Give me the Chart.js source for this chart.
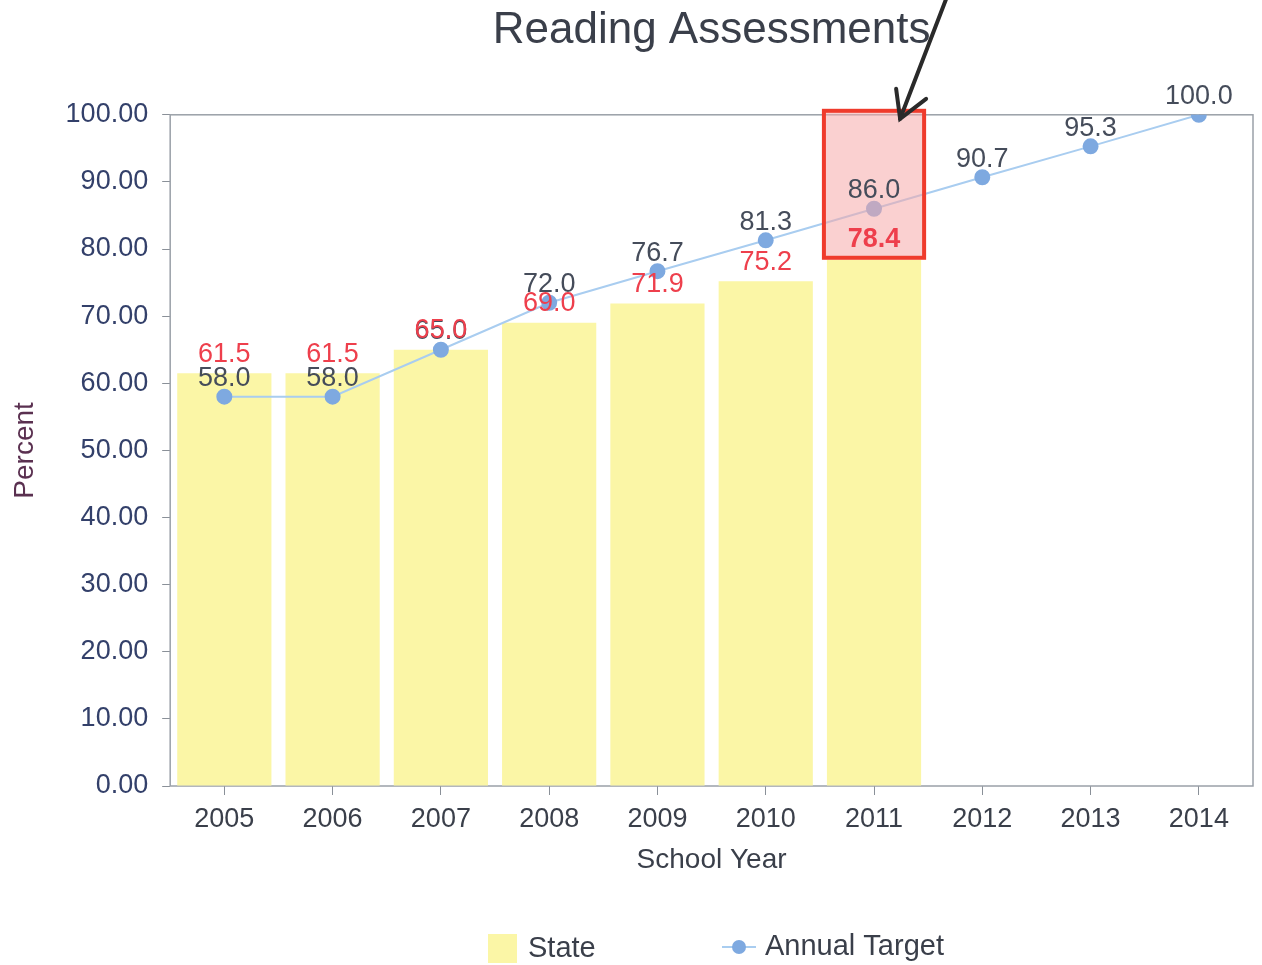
<!DOCTYPE html>
<html>
<head>
<meta charset="utf-8">
<title>Reading Assessments</title>
<script src="https://cdn.jsdelivr.net/npm/chart.js@4"></script>
<style>
  body { margin: 0; background: #fff; }
  #wrap { width: 1262px; height: 965px; }
</style>
</head>
<body>
<div id="wrap"><canvas id="chart" width="1262" height="965"></canvas></div>
<script>
const years = ["2005", "2006", "2007", "2008", "2009", "2010", "2011", "2012", "2013", "2014"];
const stateValues = [61.5, 61.5, 65.0, 69.0, 71.9, 75.2, 78.4, null, null, null];
const targetValues = [58.0, 58.0, 65.0, 72.0, 76.7, 81.3, 86.0, 90.7, 95.3, 100.0];
const highlightYear = "2011";

const font = "'Liberation Sans', Arial, sans-serif";

// labels, frame, highlight box, arrow and legend
const extras = {
  id: "extras",
  beforeDatasetsDraw(chart) {
    let a = chart.chartArea;
    let c = chart.ctx;
    c.save();
    c.strokeStyle = "#9aa0a8";
    c.lineWidth = 1.5;
    c.strokeRect(a.left, a.top, a.right - a.left, a.bottom - a.top);
    c.restore();
  },
  afterDatasetsDraw(chart) {
    let c = chart.ctx;
    let a = chart.chartArea;
    let y = chart.scales.y;
    let barMeta = chart.getDatasetMeta(0);
    let lineMeta = chart.getDatasetMeta(1);

    // highlight box
    let hi = years.indexOf(highlightYear);
    let bar = barMeta.data[hi];
    let half = bar.width / 2 + 3;
    let top = a.top - 4;
    let bottom = y.getPixelForValue(stateValues[hi]) - 2;
    c.save();
    c.fillStyle = "rgba(246, 170, 170, 0.55)";
    c.fillRect(bar.x - half, top, half * 2, bottom - top);
    c.strokeStyle = "#ef3b2c";
    c.lineWidth = 4;
    c.strokeRect(bar.x - half, top, half * 2, bottom - top);
    c.restore();

    c.save();
    c.textAlign = "center";
    c.textBaseline = "middle";

    // target labels
    c.font = "27px " + font;
    c.fillStyle = "#454c5a";
    lineMeta.data.forEach((p, i) => {
      c.fillText(targetValues[i].toFixed(1), p.x, p.y - 18);
    });

    // state labels
    barMeta.data.forEach((b, i) => {
      if (stateValues[i] == null) return;
      c.fillStyle = "#ee3f4c";
      c.font = (i === hi ? "bold " : "") + "27px " + font;
      c.fillText(stateValues[i].toFixed(1), b.x, b.y - (i === hi ? 20 : 19));
    });
    c.restore();

    // arrow
    let tipX = bar.x + half - 24;
    let tipY = top + 8;
    c.save();
    c.strokeStyle = "#2a2a2a";
    c.lineWidth = 4;
    c.lineCap = "round";
    c.beginPath();
    c.moveTo(tipX + 48, tipY - 125);
    c.lineTo(tipX, tipY);
    c.stroke();
    c.beginPath();
    c.moveTo(tipX - 4, tipY - 30);
    c.lineTo(tipX, tipY);
    c.lineTo(tipX + 26, tipY - 20);
    c.stroke();
    c.restore();

    // legend
    c.save();
    c.font = "29px " + font;
    c.textBaseline = "middle";
    c.fillStyle = "#fbf6a6";
    c.fillRect(488, 934, 29, 29);
    c.fillStyle = "#3a3f4a";
    c.fillText("State", 528, 949);
    c.strokeStyle = "#a9cdf0";
    c.lineWidth = 2;
    c.beginPath();
    c.moveTo(722, 947);
    c.lineTo(756, 947);
    c.stroke();
    c.fillStyle = "#7ea9e0";
    c.beginPath();
    c.arc(739, 947, 7, 0, Math.PI * 2);
    c.fill();
    c.fillStyle = "#3a3f4a";
    c.fillText("Annual Target", 765, 947);
    c.restore();
  }
};

new Chart(document.getElementById("chart"), {
  data: {
    labels: years,
    datasets: [
      {
        type: "bar",
        label: "State",
        data: stateValues,
        backgroundColor: "#fbf6a6",
        barPercentage: 0.87,
        categoryPercentage: 1,
        order: 2
      },
      {
        type: "line",
        label: "Annual Target",
        data: targetValues,
        borderColor: "#a9cdf0",
        borderWidth: 2,
        pointBackgroundColor: "#7ea9e0",
        pointBorderColor: "#7ea9e0",
        pointRadius: 7,
        tension: 0,
        order: 1
      }
    ]
  },
  options: {
    responsive: false,
    animation: false,
    layout: { padding: { top: 0, right: 4, bottom: 84, left: 4 } },
    plugins: {
      legend: { display: false },
      tooltip: { enabled: false },
      title: {
        display: true,
        text: "Reading Assessments",
        fullSize: false,
        color: "#3a3f4a",
        font: { family: font, size: 44, weight: "normal" },
        padding: { top: 4, bottom: 58 }
      }
    },
    scales: {
      x: {
        grid: { display: true, drawOnChartArea: false, offset: false, tickLength: 9, color: "#8a9098" },
        border: { display: false },
        ticks: { color: "#3a3f4a", font: { family: font, size: 27 }, padding: 8 },
        title: { display: true, text: "School Year", color: "#3a3f4a", font: { family: font, size: 28 }, padding: { top: 0 } }
      },
      y: {
        min: 0,
        max: 100,
        grid: { display: true, drawOnChartArea: false, tickLength: 8, color: "#8a9098" },
        border: { display: false },
        ticks: {
          stepSize: 10,
          color: "#33406a",
          font: { family: font, size: 27 },
          padding: 14,
          callback: v => v.toFixed(2)
        },
        title: { display: true, text: "Percent", color: "#5a3050", font: { family: font, size: 28 }, padding: { bottom: 10 } }
      }
    }
  },
  plugins: [extras]
});
</script>
</body>
</html>
